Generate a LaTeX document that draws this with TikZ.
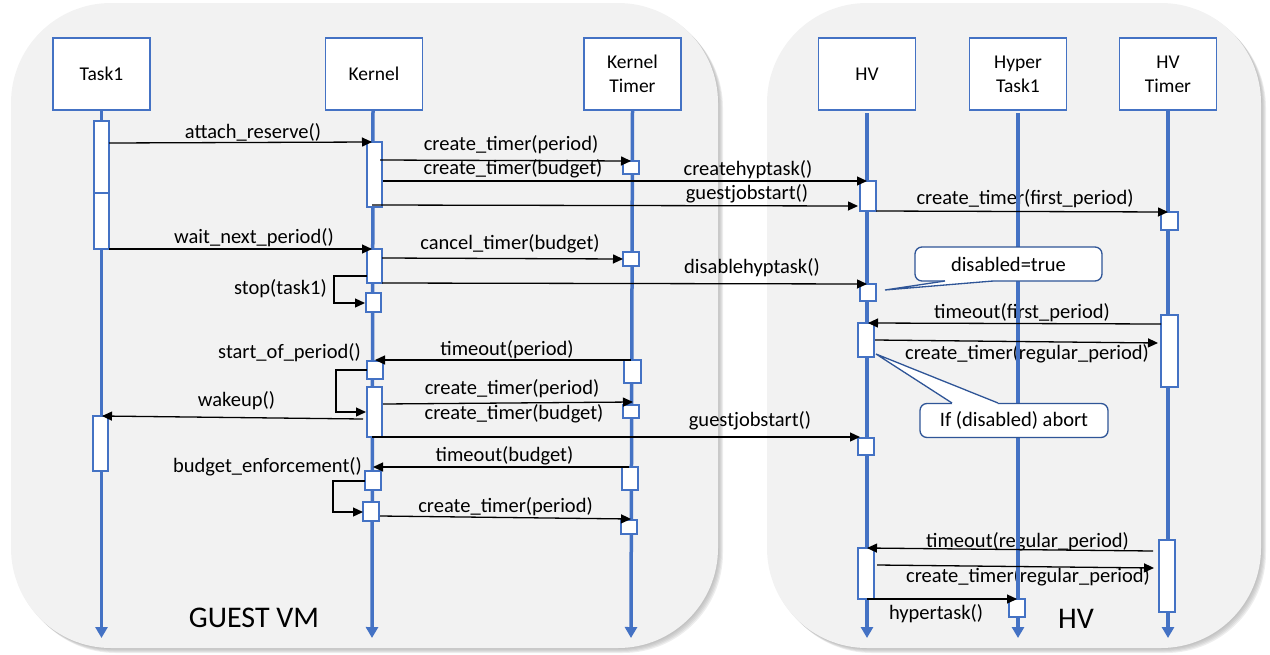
\documentclass[tikz,border=0pt]{standalone}
\usepackage{fontspec}
\setmainfont{Carlito}
\usetikzlibrary{arrows.meta,calc}
\definecolor{panel}{HTML}{F2F2F2}
\definecolor{shade}{HTML}{A0A0A0}
\definecolor{lblue}{HTML}{4472C4}
\definecolor{cblue}{HTML}{2F5597}
\newcommand{\actbox}[5]{\node[act, minimum width={#4-#2}, minimum height={#5-#3}] (#1) at ({(#2+#4)/2},{(#3+#5)/2}) {};}
\newcommand{\msgline}[5]{\coordinate (#1s) at (#2,#3); \coordinate (#1e) at (#4,#5); \draw[msg] (#1s) -- (#1e);}
\begin{document}
\begin{tikzpicture}[x=1pt,y=-1pt,
  head/.style={draw=lblue,line width=1.5pt,fill=white,minimum width=97pt,minimum height=72pt,inner sep=0pt,font=\fontsize{19.5}{24}\selectfont,align=center},
  life/.style={draw=lblue,line width=3.5pt,-{Triangle[width=12pt,length=11pt]}},
  act/.style={draw=lblue,line width=1.6pt,fill=white,inner sep=0pt,outer sep=0pt},
  msg/.style={draw=black,line width=1.3pt,-{Triangle[width=9pt,length=10pt]}},
  lbl/.style={font=\fontsize{20.5}{21}\selectfont,anchor=base,inner sep=0pt},
  big/.style={font=\fontsize{30}{32}\selectfont,anchor=base,inner sep=0pt},
  shadow/.style={fill=shade,opacity=0.18,rounded corners=100pt},
  callout/.style={draw=cblue,line width=1.3pt,fill=white,rounded corners=7pt,inner sep=0pt,font=\fontsize{20.5}{21}\selectfont}]
\useasboundingbox (0,0) rectangle (1270,654);
% panels with soft shadow
\foreach \d in {1,2,3,4,5} {
  \fill[shadow] (11+\d,3+\d) rectangle (718+\d,648+\d);
  \fill[shadow] (767+\d,3+\d) rectangle (1261+\d,648+\d);
}
\fill[panel,rounded corners=100pt] (11,3) rectangle (718,648);
\fill[panel,rounded corners=100pt] (767,3) rectangle (1261,648);
% labels
\node[lbl] at (253,138) {attach\_reserve()};
\node[lbl] at (511,150) {create\_timer(period)};
\node[lbl] at (513,174) {create\_timer(budget)};
\node[lbl] at (748,175) {createhyptask()};
\node[lbl] at (747,199) {guestjobstart()};
\node[lbl] at (1025,204) {create\_timer(first\_period)};
\node[lbl] at (254,243) {wait\_next\_period()};
\node[lbl] at (510,249) {cancel\_timer(budget)};
\node[lbl] at (752,273) {disablehyptask()};
\node[lbl,anchor=base east] at (327,294) {stop(task1)};
\node[lbl] at (1022,318) {timeout(first\_period)};
\node[lbl] at (1027,359) {create\_timer(regular\_period)};
\node[lbl] at (507,355) {timeout(period)};
\node[lbl,anchor=base east] at (361,358) {start\_of\_period()};
\node[lbl] at (512,394) {create\_timer(period)};
\node[lbl] at (514,419) {create\_timer(budget)};
\node[lbl] at (236.5,406) {wakeup()};
\node[lbl] at (750,426) {guestjobstart()};
\node[lbl] at (504.5,461) {timeout(budget)};
\node[lbl,anchor=base east] at (362,472) {budget\_enforcement()};
\node[lbl] at (505.5,512) {create\_timer(period)};
\node[lbl] at (1027.5,547) {timeout(regular\_period)};
\node[lbl] at (1028,582) {create\_timer(regular\_period)};
\node[lbl] at (936,619) {hypertask()};
\node[big] at (254,627) {GUEST VM};
\node[big] at (1076,628) {HV};
% heads
\node[head] (task) at (101.5,74) {Task1};
\node[head] (kern) at (374,74) {Kernel};
\node[head] (ktim) at (632.5,74) {Kernel\\Timer};
\node[head] (hv) at (867,74) {HV};
\node[head] (hyp) at (1018,74) {Hyper\\Task1};
\node[head] (hvt) at (1168,74) {HV\\Timer};
% lifelines
\coordinate (hvS) at (867,113);
\coordinate (hypS) at (1018,113);
\coordinate (taskE) at (101.5,638);
\coordinate (kernE) at (372,638);
\coordinate (ktimE) at (631,638);
\coordinate (hvE) at (867,638);
\coordinate (hypE) at (1018,638);
\coordinate (hvtE) at (1168,638);
\draw[life] (task.south) -- (taskE);
\draw[life] ([xshift=-1pt]kern.south) -- (kernE);
\draw[life] (ktim.south) -- (ktimE);
\draw[life] (hvS) -- (hvE);
\draw[life] (hypS) -- (hypE);
\draw[life] (hvt.south) -- (hvtE);
% callouts
\node[callout,minimum width=187pt,minimum height=34pt] (c1) at (1008.5,264) {disabled=true};
\fill[white] (945.5,278.5) -- (945,281) -- (885,290) -- (993,281) -- (992.5,278.5) -- cycle;
\draw[cblue,line width=1.3pt] (945,281) -- (885,290) -- (993,281);
\node[callout,minimum width=188pt,minimum height=34pt] (c2) at (1014,420.5) {If (disabled) abort};
\fill[white] (952.5,405.5) -- (952,403) -- (876,354) -- (998,403) -- (997.5,405.5) -- cycle;
\draw[cblue,line width=1.3pt] (952,403) -- (876,354) -- (998,403);
% activation boxes
\actbox{a1}{94}{121}{109}{193}
\actbox{a2}{94}{193}{109}{249}
\actbox{a3}{93}{416}{108}{471}
\actbox{k1}{367}{142}{382}{207}
\actbox{k2}{367}{249}{382}{283}
\actbox{k3}{366}{293}{381}{312}
\actbox{k4}{367}{361}{383}{379}
\actbox{k5}{367}{387}{382}{437}
\actbox{k6}{365}{471}{381}{490}
\actbox{k7}{363}{502}{379}{521}
\actbox{t1}{623}{161}{639}{174}
\actbox{t2}{623}{252}{639}{266}
\actbox{t3}{624}{360}{641}{383}
\actbox{t4}{623}{405}{639}{418}
\actbox{t5}{622}{467}{638}{490}
\actbox{t6}{621}{520}{637}{534}
\actbox{h1}{860}{181}{876}{211}
\actbox{h2}{860}{284}{876}{301}
\actbox{h3}{858}{323}{874}{357}
\actbox{h4}{858}{438}{874}{455}
\actbox{h5}{858}{548}{874}{599}
\actbox{y1}{1009}{599}{1025}{617}
\actbox{v1}{1161}{212}{1178}{230}
\actbox{v2}{1161}{315}{1178}{387}
\actbox{v3}{1159}{540}{1175}{612}
% messages
\msgline{m1}{109}{143}{372}{142}
\msgline{m2}{380}{160}{631}{161}
\msgline{m3}{383}{181}{867}{181}
\msgline{m4}{372}{205}{858}{206}
\msgline{m5}{876}{211}{1168}{212}
\msgline{m6}{109}{249}{372}{249}
\msgline{m7}{382}{258}{623}{259}
\msgline{m8}{382}{283}{867}{284}
\msgline{m10}{1161}{324}{868}{323}
\msgline{m11}{875}{340}{1158}{343}
\msgline{m12}{631}{360}{375}{360}
\msgline{m14}{383}{404}{633}{402}
\msgline{m15}{363}{419}{102}{416}
\msgline{m16}{372}{437}{860}{437}
\msgline{m17}{629}{467}{373}{467}
\msgline{m19}{380}{516}{631}{519}
\msgline{m20}{1153}{551}{867}{548}
\msgline{m21}{877}{565}{1154}{568}
\msgline{m22}{867}{599}{1017}{599}
% self messages
\coordinate (m9s) at (367,276); \coordinate (m9e) at (365,303);
\draw[msg] (m9s) -- ++(-33,0) |- (m9e);
\coordinate (m13s) at (367,370); \coordinate (m13e) at (366,412);
\draw[msg] (m13s) -- ++(-31,0) |- (m13e);
\coordinate (m18s) at (365,481); \coordinate (m18e) at (363,512);
\draw[msg] (m18s) -- ++(-32,0) |- (m18e);
\end{tikzpicture}
\end{document}
